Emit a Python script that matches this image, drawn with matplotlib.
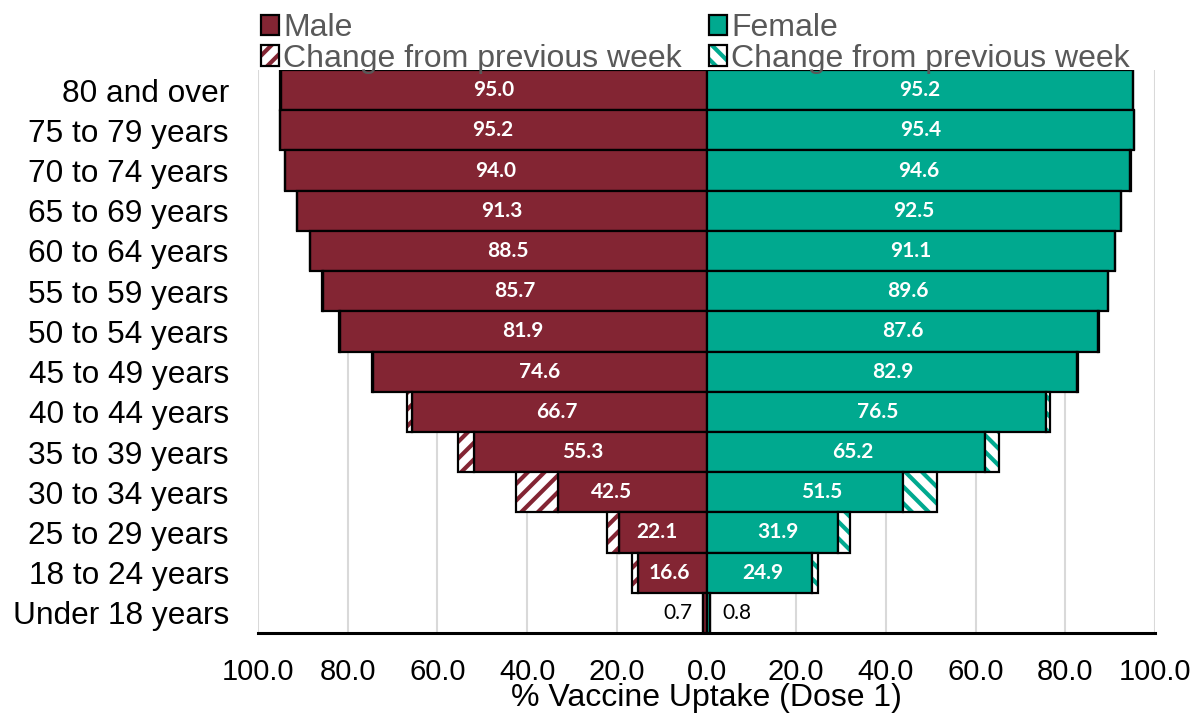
import matplotlib
matplotlib.use("Agg")
import matplotlib.pyplot as plt
from matplotlib.patches import Patch
from matplotlib.legend_handler import HandlerTuple
from matplotlib.ticker import FuncFormatter, MultipleLocator

# age groups, top to bottom
ages = ['80 and over', '75 to 79 years', '70 to 74 years', '65 to 69 years',
        '60 to 64 years', '55 to 59 years', '50 to 54 years', '45 to 49 years',
        '40 to 44 years', '35 to 39 years', '30 to 34 years', '25 to 29 years',
        '18 to 24 years', 'Under 18 years']

# % uptake (dose 1), this week
male = [95.0, 95.2, 94.0, 91.3, 88.5, 85.7, 81.9, 74.6, 66.7, 55.3, 42.5, 22.1, 16.6, 0.7]
female = [95.2, 95.4, 94.6, 92.5, 91.1, 89.6, 87.6, 82.9, 76.5, 65.2, 51.5, 31.9, 24.9, 0.8]

# change from previous week (estimated from the hatched segments)
male_change = [0.1, 0.1, 0.1, 0.1, 0.1, 0.1, 0.2, 0.3, 1.0, 3.4, 9.3, 2.5, 1.4, 0.0]
female_change = [0.1, 0.1, 0.1, 0.1, 0.1, 0.1, 0.2, 0.3, 0.7, 3.1, 7.6, 2.5, 1.4, 0.0]

maroon = '#832533'
teal = '#00A98F'

plt.rcParams['font.family'] = ['Liberation Sans', 'DejaVu Sans']
plt.rcParams['hatch.linewidth'] = 3.0

fig = plt.figure(figsize=(12.03, 7.18), dpi=100)
ax = fig.add_axes([258 / 1203, 1 - 633 / 718, (1155 - 258) / 1203, (633 - 70) / 718])

y = list(range(len(ages)))
m_base = [t - c for t, c in zip(male, male_change)]
f_base = [t - c for t, c in zip(female, female_change)]

# solid parts
ax.barh(y, [-v for v in m_base], height=1.0, color=maroon, edgecolor='black', linewidth=1.6, zorder=3)
ax.barh(y, f_base, height=1.0, color=teal, edgecolor='black', linewidth=1.6, zorder=3)

# hatched change parts
ax.barh(y, [-c for c in male_change], left=[-b for b in m_base], height=1.0,
        facecolor='white', edgecolor=maroon, hatch='//', linewidth=0, zorder=3)
ax.barh(y, [-c for c in male_change], left=[-b for b in m_base], height=1.0,
        fill=False, edgecolor='black', linewidth=1.6, zorder=4)
ax.barh(y, female_change, left=f_base, height=1.0,
        facecolor='white', edgecolor=teal, hatch='\\\\', linewidth=0, zorder=3)
ax.barh(y, female_change, left=f_base, height=1.0,
        fill=False, edgecolor='black', linewidth=1.6, zorder=4)

# value labels
lab = dict(fontsize=15, family='Lato', fontweight='bold', zorder=5)
for i in y:
    if male[i] > 5:
        ax.text(-male[i] / 2, i, f'{male[i]:.1f}', ha='center', va='center', color='white', **lab)
    else:
        ax.annotate(f'{male[i]:.1f}', (-male[i], i), xytext=(-8, 0), textcoords='offset points',
                    ha='right', va='center', fontsize=15, family='Lato', zorder=5)
    if female[i] > 5:
        ax.text(female[i] / 2, i, f'{female[i]:.1f}', ha='center', va='center', color='white', **lab)
    else:
        ax.annotate(f'{female[i]:.1f}', (female[i], i), xytext=(9, 0), textcoords='offset points',
                    ha='left', va='center', fontsize=15, family='Lato', zorder=5)

ax.set_xlim(-100, 100)
ax.set_ylim(len(ages) - 0.5, -0.5)
ax.set_yticks(y)
ax.set_yticklabels(ages, fontsize=22.8)
ax.xaxis.set_major_locator(MultipleLocator(20))
ax.xaxis.set_major_formatter(FuncFormatter(lambda v, p: f'{abs(v):.1f}'))
ax.tick_params(axis='x', labelsize=21, length=0, pad=18)
ax.tick_params(axis='y', length=0, pad=21)
ax.set_xlabel('% Vaccine Uptake (Dose 1)', fontsize=23, labelpad=-2)

ax.grid(axis='x', color='#d9d9d9', linewidth=1.5, zorder=0)
for s in ['top', 'left', 'right']:
    ax.spines[s].set_visible(False)
ax.spines['bottom'].set_linewidth(2.2)
ax.spines['bottom'].set_zorder(6)

# legend
h_m = Patch(facecolor=maroon, edgecolor='black', linewidth=1.6)
h_f = Patch(facecolor=teal, edgecolor='black', linewidth=1.6)
h_mc = (Patch(facecolor='white', edgecolor=maroon, hatch='//', linewidth=0),
        Patch(fill=False, edgecolor='black', linewidth=1.6))
h_fc = (Patch(facecolor='white', edgecolor=teal, hatch='\\\\', linewidth=0),
        Patch(fill=False, edgecolor='black', linewidth=1.6))
fig.legend([h_m, h_mc, h_f, h_fc],
           ['Male', 'Change from previous week', 'Female', 'Change from previous week'],
           ncol=2, loc='upper left', bbox_to_anchor=(245 / 1203, 1.004), frameon=False,
           fontsize=23, labelcolor='#595959', handlelength=0.55, handleheight=0.6,
           handletextpad=0.15, labelspacing=0.02, columnspacing=0.85, borderpad=0,
           handler_map={tuple: HandlerTuple(ndivide=1, pad=0)})

fig.savefig('out.png', dpi=100)
